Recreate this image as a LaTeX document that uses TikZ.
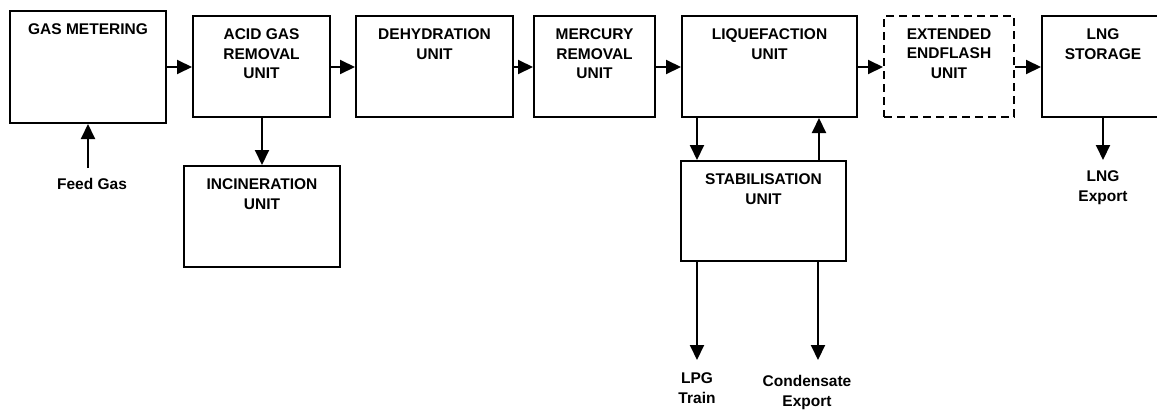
\documentclass[tikz,border=0pt]{standalone}
\usepackage{fontspec}
\setmainfont{Liberation Sans}
\usetikzlibrary{arrows.meta}
\begin{document}
\begin{tikzpicture}[x=1pt,y=-1pt,
  font=\bfseries\fontsize{15.5}{19.5}\selectfont,
  box/.style={draw, line width=2pt, rectangle, inner sep=0pt},
  dbox/.style={box, dash pattern=on 8pt off 5pt},
  lbl/.style={align=center, inner sep=0pt},
  arr/.style={line width=2pt, -{Triangle[length=15pt,width=14pt]}},
  lab/.style={label={[lbl, anchor=north, yshift=-13.5pt]north:#1}}]
\useasboundingbox (0,0) rectangle (1157,410);
\node[box, minimum width=156pt, minimum height=112pt, lab={GAS METERING}] (gm) at (88,67) {};
\node[box, minimum width=137pt, minimum height=101pt, lab={ACID GAS\\REMOVAL\\UNIT}] (agr) at (261.5,66.5) {};
\node[box, minimum width=157pt, minimum height=101pt, lab={DEHYDRATION\\UNIT}] (dh) at (434.5,66.5) {};
\node[box, minimum width=121pt, minimum height=101pt, lab={MERCURY\\REMOVAL\\UNIT}] (mr) at (594.5,66.5) {};
\node[box, minimum width=175pt, minimum height=101pt, lab={LIQUEFACTION\\UNIT}] (lq) at (769.5,66.5) {};
\node[dbox, minimum width=130pt, minimum height=101pt, lab={EXTENDED\\ENDFLASH\\UNIT}] (ee) at (949,66.5) {};
\node[box, minimum width=122pt, minimum height=101pt, lab={LNG\\STORAGE}] (lng) at (1103,66.5) {};
\node[box, minimum width=156pt, minimum height=101pt, lab={INCINERATION\\UNIT}] (inc) at (262,216.5) {};
\node[box, minimum width=165pt, minimum height=100pt, lab={STABILISATION\\UNIT}] (stab) at (763.5,211) {};

\node[lbl] (feed) at (92,184) {Feed Gas};
\node[lbl] (lngx) at (1103,187.5) {LNG\\Export};
\node[lbl] (lpg) at (697,388) {LPG\\Train};
\node[lbl] (cond) at (807,392.5) {Condensate\\Export};

\coordinate (feedend) at (88,168);
\coordinate (lngtip) at (1103,160);
\coordinate (lpgtip) at (697,360);
\coordinate (condtip) at (818,360);
\coordinate (xl) at (697,0);
\coordinate (xr) at (819,0);

\draw[arr] (gm.east |- 0,67) -- (agr.west |- 0,67);
\draw[arr] (agr.east |- 0,67) -- (dh.west |- 0,67);
\draw[arr] (dh.east |- 0,67) -- (mr.west |- 0,67);
\draw[arr] (mr.east |- 0,67) -- (lq.west |- 0,67);
\draw[arr] (lq.east |- 0,67) -- (ee.west |- 0,67);
\draw[arr] (ee.east |- 0,67) -- (lng.west |- 0,67);
\draw[arr] (feedend) -- (feedend |- gm.south);
\draw[arr] (agr.south -| inc.north) -- (inc.north);
\draw[arr] (lq.south -| xl) -- (stab.north -| xl);
\draw[arr] (stab.north -| xr) -- (lq.south -| xr);
\draw[arr] (lngtip |- lng.south) -- (lngtip);
\draw[arr] (stab.south -| lpgtip) -- (lpgtip);
\draw[arr] (stab.south -| condtip) -- (condtip);
\end{tikzpicture}
\end{document}
